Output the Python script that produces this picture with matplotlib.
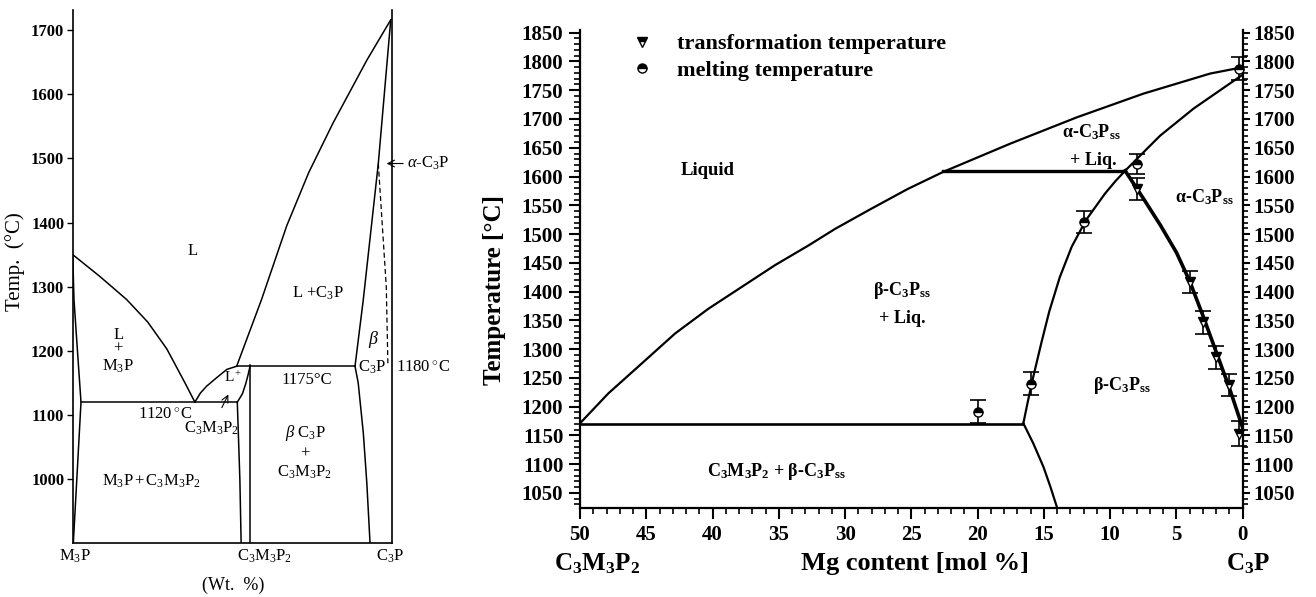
import matplotlib.pyplot as plt
from matplotlib.lines import Line2D
from matplotlib.ticker import FixedLocator

plt.rcParams['font.family'] = ['Liberation Serif', 'DejaVu Serif']
plt.rcParams['mathtext.fontset'] = 'custom'
plt.rcParams['mathtext.rm'] = 'Liberation Serif'
plt.rcParams['mathtext.it'] = 'Liberation Serif:italic'
plt.rcParams['mathtext.bf'] = 'Liberation Serif:bold'

# ---- left diagram: M3P - C3M3P2 - C3P (wt %) ----
solvus_m3p_x = [0, 0.4, 1.45, 2.6, 1.4, 0.2]
solvus_m3p_T = [1350, 1280, 1203, 1120, 1010, 901]
liq_m3p_x = [0, 8.5, 16.9, 23.5, 29.5, 35.2, 38.3]
liq_m3p_T = [1350, 1316, 1280, 1245, 1203, 1150, 1120]
liq_mid_x = [38.3, 40, 42, 45.1, 48.3, 51.4]
liq_mid_T = [1120, 1134, 1145, 1158, 1171, 1176]
liq_c3p_x = [51.4, 55, 59.2, 67.1, 74, 81.6, 92.2, 99.7]
liq_c3p_T = [1176, 1224, 1280, 1395, 1478, 1555, 1653, 1716]
sol_mid_x = [51.6, 53.2, 54.2, 55.0, 55.6]
sol_mid_T = [1120, 1133, 1148, 1163, 1176]
c3m3p2_left_x = [51.6, 52.4, 52.8]
c3m3p2_left_T = [1120, 1000, 901]
c3m3p2_right_x = [55.6, 55.6]
c3m3p2_right_T = [1178, 901]
beta_up_x = [99.7, 95.8, 91.1, 88.5]
beta_up_T = [1716, 1492, 1280, 1176]
beta_low_x = [88.5, 89.5, 91.1, 92.2, 93.2]
beta_low_T = [1176, 1150, 1072, 994, 901]
alpha_dash_x = [95.8, 98.3, 98.8]
alpha_dash_T = [1492, 1300, 1180]
eut1_x = [2.6, 51.6]
eut1_T = [1120, 1120]
per1_x = [51.4, 88.5]
per1_T = [1176, 1176]
left_ticks = [1000, 1100, 1200, 1300, 1400, 1500, 1600, 1700]

# ---- right diagram: C3M3P2 - C3P (mol % Mg) ----
liq_x = [50, 47.86, 45.34, 42.83, 40.32, 37.8, 35.28, 32.77, 30.75, 28.1, 25.3,
         22.6, 17.55, 12.5, 7.5, 2.45, 0]
liq_T = [1171, 1223, 1275, 1327, 1370, 1408, 1446, 1480, 1509, 1543, 1578,
         1608, 1657, 1703, 1744, 1779, 1790]
alpha_sol_x = [16.55, 16.2, 15.8, 15.2, 14.6, 13.8, 12.9, 11.8, 10.4, 9.6, 8.87,
               7.49, 6.23, 3.71, 1.2, 0]
alpha_sol_T = [1171, 1210, 1252, 1310, 1365, 1425, 1478, 1525, 1570, 1592, 1610,
               1642, 1671, 1718, 1758, 1777]
trans_line_x = [8.87, 7.5, 6.2, 5.0, 4.0, 3.0, 2.0, 1.0, 0]
trans_line_T = [1610, 1562, 1515, 1468, 1418, 1358, 1295, 1232, 1163]
beta_solvus_x = [16.55, 15.8, 15.03, 14.5, 14.0]
beta_solvus_T = [1171, 1136, 1095, 1060, 1024]
eut2_x = [50, 16.55]
eut2_T = [1170, 1170]
per2_x = [22.6, 8.87]
per2_T = [1609, 1609]

melt_x = [0.25, 8, 12, 16, 20]
melt_T = [1787, 1622, 1521, 1240, 1191]
melt_err = [20, 18, 19, 20, 20]
trans_x = [0.3, 1, 2, 3, 4, 8]
trans_T = [1153, 1237, 1286, 1347, 1417, 1579]
trans_err = [22, 19, 20, 20, 19, 19]

right_yticks = list(range(1050, 1851, 50))
right_yminor = list(range(1030, 1851, 10))
right_xticks = list(range(0, 51, 5))
right_xminor = list(range(0, 51, 1))


def main():
    fig = plt.figure(figsize=(13.16, 5.97), dpi=100)

    # left panel
    ax1 = fig.add_axes([72.7 / 1316, 54.3 / 597, 319 / 1316, 532.7 / 597])
    ax1.set_xlim(0, 100)
    ax1.set_ylim(900.9, 1731.3)
    lw = 1.1
    for xs, ts in [(solvus_m3p_x, solvus_m3p_T), (liq_m3p_x, liq_m3p_T),
                   (liq_mid_x, liq_mid_T), (liq_c3p_x, liq_c3p_T),
                   (sol_mid_x, sol_mid_T), (c3m3p2_left_x, c3m3p2_left_T),
                   (c3m3p2_right_x, c3m3p2_right_T), (beta_up_x, beta_up_T),
                   (beta_low_x, beta_low_T), (eut1_x, eut1_T), (per1_x, per1_T)]:
        ax1.plot(xs, ts, color='black', lw=lw)
    ax1.plot(alpha_dash_x, alpha_dash_T, color='black', lw=0.9, ls=(0, (4, 2.5)))
    ax1.spines['top'].set_visible(False)
    for s in ['left', 'right', 'bottom']:
        ax1.spines[s].set_linewidth(1.2)
    ax1.set_xticks([])
    ax1.set_yticks(left_ticks)
    ax1.tick_params(axis='y', direction='out', length=4, width=1, pad=2, labelsize=12)
    for lab in ax1.get_yticklabels():
        lab.set_fontweight('bold')

    fs = 12
    ax1.text(37.7, 1356, 'L', fontsize=fs, ha='center', va='center')
    ax1.text(76.9, 1290, 'L +C$_3$P', fontsize=fs, ha='center', va='center')
    ax1.text(14.3, 1225, 'L', fontsize=fs, ha='center', va='center')
    ax1.text(14.3, 1204, '+', fontsize=fs, ha='center', va='center')
    ax1.text(14.3, 1176, 'M$_3$P', fontsize=fs, ha='center', va='center')
    ax1.text(29, 1100, '1120$^\\circ$C', fontsize=fs, ha='center', va='center')
    ax1.annotate('C$_3$M$_3$P$_2$', xy=(48.8, 1132), xytext=(43.6, 1080),
                 fontsize=fs, ha='center', va='center',
                 arrowprops=dict(arrowstyle='->', lw=0.8, color='black',
                                 shrinkA=7, shrinkB=0))
    ax1.text(50.4, 1158, 'L$^+$', fontsize=11, ha='center', va='center')
    ax1.text(73.4, 1155, '1175°C', fontsize=fs, ha='center', va='center')
    ax1.text(94.2, 1218, '$\\beta$', fontsize=13, ha='center', va='center',
             fontweight='bold')
    ax1.text(93.7, 1174, 'C$_3$P', fontsize=fs, ha='center', va='center')
    ax1.text(101.3, 1174, '1180$^\\circ$C', fontsize=fs, ha='left', va='center',
             clip_on=False)
    ax1.text(72.8, 1072, '$\\beta$ C$_3$P', fontsize=fs, ha='center', va='center')
    ax1.text(72.8, 1040, '+', fontsize=fs, ha='center', va='center')
    ax1.text(72.8, 1010, 'C$_3$M$_3$P$_2$', fontsize=fs, ha='center', va='center')
    ax1.text(24.8, 996, 'M$_3$P$\\,$+$\\,$C$_3$M$_3$P$_2$', fontsize=fs,
             ha='center', va='center')
    ax1.annotate('$\\alpha$-C$_3$P', xy=(98.4, 1492), xytext=(104.9, 1492),
                 fontsize=fs, ha='left', va='center', annotation_clip=False,
                 arrowprops=dict(arrowstyle='->', lw=0.8, color='black',
                                 shrinkA=1, shrinkB=0))
    ax1.text(0.7, 879, 'M$_3$P', fontsize=fs, ha='center', va='center', clip_on=False)
    ax1.text(51.6, 879, 'C$_3$M$_3$P$_2$', fontsize=fs, ha='left', va='center',
             clip_on=False)
    ax1.text(99.5, 879, 'C$_3$P', fontsize=fs, ha='center', va='center', clip_on=False)
    ax1.text(50.3, 835, '(Wt.  %)', fontsize=13, ha='center', va='center',
             clip_on=False)
    fig.text(15 / 1316, 1 - 262 / 597, 'Temp.  (°C)', rotation=90, fontsize=15,
             ha='center', va='center')

    # right panel
    ax2 = fig.add_axes([580 / 1316, 88.7 / 597, 662.7 / 1316, 478.3 / 597])
    ax2.set_xlim(50, 0)
    ax2.set_ylim(1023.2, 1854.7)
    lw2 = 1.6
    ax2.plot(liq_x, liq_T, color='black', lw=lw2)
    ax2.plot(alpha_sol_x, alpha_sol_T, color='black', lw=lw2)
    ax2.plot(trans_line_x, trans_line_T, color='black', lw=2.6)
    ax2.plot(beta_solvus_x, beta_solvus_T, color='black', lw=lw2)
    ax2.plot(eut2_x, eut2_T, color='black', lw=1.9)
    ax2.plot(per2_x, per2_T, color='black', lw=2.4)

    ax2.errorbar(melt_x, melt_T, yerr=melt_err, fmt='none', ecolor='black',
                 elinewidth=1.2, capsize=6, capthick=1.2, clip_on=False)
    ax2.errorbar(trans_x, trans_T, yerr=trans_err, fmt='none', ecolor='black',
                 elinewidth=1.2, capsize=6, capthick=1.2, clip_on=False)
    ax2.plot(melt_x, melt_T, 'o', ms=6.5, mfc='black', mec='black', mew=1,
             fillstyle='top', markerfacecoloralt='white', clip_on=False)
    ax2.plot(trans_x, trans_T, 'v', ms=7, mfc='black', mec='black', mew=1,
             fillstyle='top', markerfacecoloralt='white', clip_on=False)

    ax2.spines['top'].set_visible(False)
    ax2.spines['right'].set_visible(False)
    for s in ['left', 'bottom']:
        ax2.spines[s].set_linewidth(1.6)
    ax2.xaxis.set_major_locator(FixedLocator(right_xticks))
    ax2.xaxis.set_minor_locator(FixedLocator(right_xminor))
    ax2.yaxis.set_major_locator(FixedLocator(right_yticks))
    ax2.yaxis.set_minor_locator(FixedLocator(right_yminor))
    ax2.tick_params(which='major', direction='out', length=8, width=1.5,
                    labelsize=15, pad=4)
    ax2.tick_params(which='minor', direction='out', length=4, width=1.2)
    for lab in ax2.get_xticklabels() + ax2.get_yticklabels():
        lab.set_fontweight('bold')

    sec = ax2.secondary_yaxis('right')
    sec.spines['right'].set_linewidth(1.6)
    sec.yaxis.set_major_locator(FixedLocator(right_yticks))
    sec.yaxis.set_minor_locator(FixedLocator(right_yminor))
    sec.tick_params(which='major', direction='out', length=5, width=1.5,
                    labelsize=15, pad=3)
    sec.tick_params(which='minor', direction='out', length=3.5, width=1.2)
    for lab in sec.get_yticklabels():
        lab.set_fontweight('bold')

    bf = dict(fontweight='bold', ha='center', va='center')
    ss = 'C$_\\mathbf{3}$P$_\\mathbf{ss}$'
    ax2.text(40.4, 1611, 'Liquid', fontsize=13.5, **bf)
    ax2.text(11.4, 1677, '\u03b1-' + ss, fontsize=13, **bf)
    ax2.text(11.3, 1628, '+ Liq.', fontsize=13, **bf)
    ax2.text(2.9, 1564, '\u03b1-' + ss, fontsize=13, **bf)
    ax2.text(25.7, 1402, '\u03b2-' + ss, fontsize=13, **bf)
    ax2.text(25.7, 1354, '+ Liq.', fontsize=13, **bf)
    ax2.text(9.1, 1237, '\u03b2-' + ss, fontsize=13, **bf)
    ax2.text(35.2, 1087, 'C$_\\mathbf{3}$M$_\\mathbf{3}$P$_\\mathbf{2}$ + \u03b2-' + ss,
             fontsize=13, **bf)
    ax2.text(48.7, 927.7, 'C$_\\mathbf{3}$M$_\\mathbf{3}$P$_\\mathbf{2}$',
             fontsize=18, clip_on=False, **bf)
    ax2.text(-0.4, 927.7, 'C$_\\mathbf{3}$P', fontsize=18, clip_on=False, **bf)
    ax2.text(24.7, 927.7, 'Mg content [mol %]', fontsize=19, clip_on=False, **bf)
    fig.text(495 / 1316, 1 - 290 / 597, 'Temperature [°C]', rotation=90,
             fontsize=18, fontweight='bold', ha='center', va='center')

    handles = [
        Line2D([], [], ls='none', marker='v', ms=7, mfc='black', mec='black',
               fillstyle='top', markerfacecoloralt='white'),
        Line2D([], [], ls='none', marker='o', ms=6.5, mfc='black', mec='black',
               fillstyle='top', markerfacecoloralt='white'),
    ]
    ax2.legend(handles, ['transformation temperature', 'melting temperature'],
               loc='upper left', bbox_to_anchor=(0.0765, 0.992), frameon=False,
               handlelength=1.0, handletextpad=1.1, labelspacing=0.27,
               borderpad=0, borderaxespad=0,
               prop={'family': 'Liberation Serif', 'weight': 'bold', 'size': 16})

    fig.savefig('out.png', dpi=100)


if __name__ == "__main__":
    main()
